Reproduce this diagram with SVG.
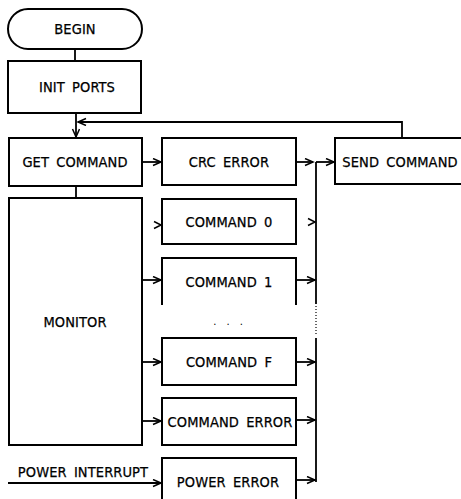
<svg xmlns="http://www.w3.org/2000/svg" width="461" height="499" viewBox="0 0 461 499">
<style>
.box{fill:#fff;stroke:#000;stroke-width:2}
.open{fill:none;stroke:#000;stroke-width:2}
.ln{fill:none;stroke:#000;stroke-width:1.8}
.dot{fill:none;stroke:#000;stroke-width:1.2;stroke-dasharray:1 2}
.head{fill:none;stroke:#000;stroke-width:1.5}
text{font-family:"Liberation Sans Narrow","DejaVu Sans Condensed","Liberation Sans",sans-serif;font-size:14.5px;fill:#000;text-anchor:middle;letter-spacing:0.1px;word-spacing:3px;stroke:#000;stroke-width:0.25}
</style>
<defs>
<marker id="arr" markerUnits="userSpaceOnUse" markerWidth="12" markerHeight="10" refX="9" refY="4" orient="auto" viewBox="0 0 12 10">
<path d="M1,0.5 L9,4 L1,7.5" fill="none" stroke="#000" stroke-width="1.5"/>
</marker>
</defs>
<g id="connectors">
<path class="ln" d="M75,49 V61"/>
<path class="ln" d="M76,113 V137" marker-end="url(#arr)"/>
<path class="ln" d="M402,138 V122 H78" marker-end="url(#arr)"/>
<path class="ln" d="M76,186 V198"/>
<path class="ln" d="M142,162 H161" marker-end="url(#arr)"/>
<path class="ln" d="M296,162 H313" marker-end="url(#arr)"/>
<path class="ln" d="M316,162 H334" marker-end="url(#arr)"/>
<path class="ln" d="M316,162 V304"/>
<path class="dot" d="M316,306 V334"/>
<path class="ln" d="M316,338 V482"/>
<path class="head" d="M154,221.5 L161,225 L154,228.5"/>
<path class="head" d="M308,218.5 L315,222 L308,225.5"/>
<path class="ln" d="M142,280 H161" marker-end="url(#arr)"/>
<path class="ln" d="M296,280 H315" marker-end="url(#arr)"/>
<path class="ln" d="M142,362 H161" marker-end="url(#arr)"/>
<path class="ln" d="M296,362 H315" marker-end="url(#arr)"/>
<path class="ln" d="M142,421 H161" marker-end="url(#arr)"/>
<path class="ln" d="M296,420 H315" marker-end="url(#arr)"/>
<path class="ln" d="M8,483 H161" marker-end="url(#arr)"/>
<path class="ln" d="M296,480 H315" marker-end="url(#arr)"/>
</g>
<g id="begin"><rect class="box" x="8" y="9" width="134" height="40" rx="20"/><text x="75" y="34">BEGIN</text></g>
<g id="init-ports"><rect class="box" x="8" y="61" width="133" height="52"/><text x="77" y="92">INIT PORTS</text></g>
<g id="get-command"><rect class="box" x="9" y="138" width="133" height="48"/><text x="75" y="167">GET COMMAND</text></g>
<g id="monitor"><rect class="box" x="9" y="198" width="133" height="247"/><text x="75" y="327">MONITOR</text></g>
<g id="crc-error"><rect class="box" x="162" y="138" width="134" height="47"/><text x="229" y="167">CRC ERROR</text></g>
<g id="send-command"><rect class="box" x="335" y="138" width="140" height="46"/><text x="400" y="167">SEND COMMAND</text></g>
<g id="command-0"><rect class="box" x="162" y="199" width="134" height="45"/><text x="229" y="227">COMMAND 0</text></g>
<g id="command-1"><path class="open" d="M162,305 V258 H296 V305"/><text x="229" y="287">COMMAND 1</text></g>
<g id="ellipsis"><text x="229" y="325" style="font-size:11px;letter-spacing:2px;stroke-width:0">. . .</text></g>
<g id="command-f"><rect class="box" x="162" y="338" width="134" height="47"/><text x="229" y="367">COMMAND F</text></g>
<g id="command-error"><rect class="box" x="162" y="398" width="134" height="47"/><text x="230" y="427">COMMAND ERROR</text></g>
<g id="power-error"><path class="open" d="M162,505 V458 H296 V505"/><text x="228" y="487">POWER ERROR</text></g>
<g id="power-interrupt"><text x="83" y="477">POWER INTERRUPT</text></g>
</svg>
